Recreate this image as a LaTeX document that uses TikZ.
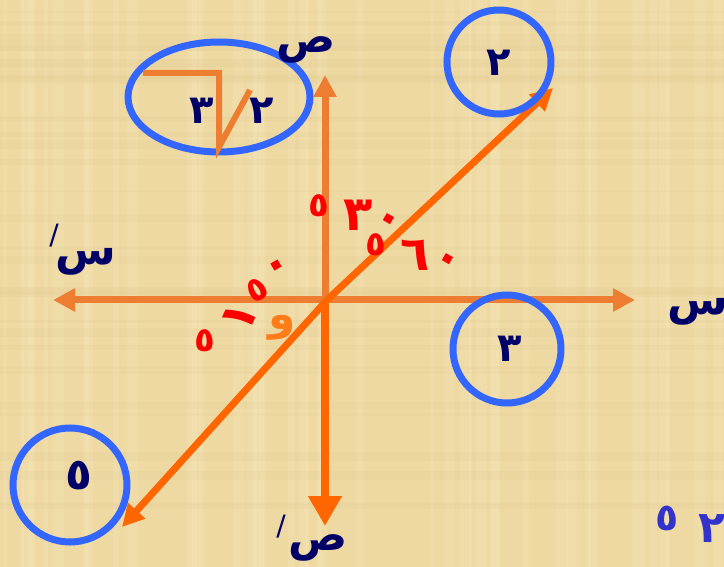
\documentclass[tikz,border=0pt]{standalone}
\usepackage{fontspec}
\usetikzlibrary{arrows.meta,shapes.geometric}
\newfontfamily\arabicfont[Script=Arabic]{DejaVu Sans}
\TeXXeTstate=1
\definecolor{papyrus}{RGB}{238,217,163}
\definecolor{papyrusL}{RGB}{246,230,185}
\definecolor{papyrusD}{RGB}{222,198,140}
\definecolor{axisorange}{RGB}{237,125,49}
\definecolor{hotorange}{RGB}{255,102,0}
\definecolor{wawcol}{RGB}{255,125,25}
\definecolor{ringblue}{RGB}{51,102,255}
\definecolor{navy}{RGB}{0,0,102}
\definecolor{labelblue}{RGB}{51,51,204}
\definecolor{degred}{RGB}{255,0,0}
\begin{document}
\begin{tikzpicture}[x=1pt,y=-1pt,
  ring/.style={draw=ringblue,line width=7pt},
  axisline/.style={draw=axisorange,line width=7pt},
  hotline/.style={draw=hotorange,line width=7pt},
  tipsmall/.style={-{Triangle[width=22pt,length=22pt]}},
  tipbig/.style={-{Triangle[width=32pt,length=30pt]}},
  navytxt/.style={text=navy,font=\arabicfont\bfseries\fontsize{40}{44}\selectfont,inner sep=0pt},
  lettertxt/.style={text=navy,font=\arabicfont\bfseries\fontsize{44}{48}\selectfont,inner sep=0pt},
  primetxt/.style={text=navy,font=\arabicfont\fontsize{28}{30}\selectfont,inner sep=0pt},
  redtxt/.style={text=degred,font=\arabicfont\bfseries\fontsize{48}{52}\selectfont,inner sep=0pt},
  redsmall/.style={text=degred,font=\arabicfont\bfseries\fontsize{34}{38}\selectfont,inner sep=0pt},
  bluetxt/.style={text=labelblue,font=\arabicfont\bfseries\fontsize{44}{48}\selectfont,inner sep=0pt}
]
\fill[papyrus] (0,0) rectangle (724,567);
% papyrus fibres
\pgfmathsetseed{7}
\foreach \i in {1,...,45}{
  \pgfmathsetmacro{\xx}{rnd*724}
  \pgfmathsetmacro{\ww}{2+rnd*10}
  \fill[papyrusL,opacity=0.3] (\xx,0) rectangle ({\xx+\ww},567);
}
\foreach \i in {1,...,35}{
  \pgfmathsetmacro{\yy}{rnd*567}
  \pgfmathsetmacro{\hh}{2+rnd*8}
  \fill[papyrusD,opacity=0.12] (0,\yy) rectangle (724,{\yy+\hh});
}
\useasboundingbox (0,0) rectangle (724,567);

% coordinates
\coordinate (O) at (327,300);
\coordinate (xr) at (635,300);
\coordinate (xl) at (53,300);
\coordinate (yt) at (325,75);
\coordinate (yb) at (325,526);
\coordinate (dtr) at (553,88);
\coordinate (dbl) at (122,527);
\coordinate (Oy) at (325,300);

% axes
\draw[axisline,tipsmall] (O) -- (xr);
\draw[axisline,tipsmall] (O) -- (xl);
\draw[axisline,tipsmall] (Oy) -- (yt);
\draw[hotline,line width=8pt,tipbig] (Oy) -- (yb);
\draw[hotline,tipsmall] (O) -- (dtr);
\draw[hotline,tipsmall] (O) -- (dbl);

% rings
\node[ring,ellipse,minimum width=182pt,minimum height=110pt,inner sep=0pt] (ell) at (219,97) {};
\draw[ring] (499,62) circle (52);
\draw[ring] (507,349) circle (54);
\draw[ring] (70,485) circle (57);

% radical
\coordinate (r1) at (143,73);
\coordinate (r2) at (219,73);
\coordinate (r3) at (219,147);
\coordinate (r4) at (250,90);
\draw[axisorange,line width=6pt] (r1) -- (r2) -- (r3) -- (r4);

% navy labels
\node[lettertxt] (sad) at (306,50) {\beginR ص\endR};
\node[lettertxt] (sadp) at (318,548) {\beginR ص\endR};
\node[primetxt] (sadpm) at (281,527) {/};
\node[lettertxt] (sin) at (698,312) {\beginR س\endR};
\node[lettertxt] (sinp) at (86,262) {\beginR س\endR};
\node[primetxt] (sinpm) at (54,236) {/};
\node[navytxt] (e3) at (202,111) {٣};
\node[navytxt] (e2) at (262,111) {٢};
\node[navytxt] (c2) at (499,63) {٢};
\node[navytxt] (c3) at (510,349) {٣};
\node[navytxt,font=\arabicfont\bfseries\fontsize{44}{48}\selectfont] (c5) at (79,476) {٥};

% red degree labels
\node[redsmall] (a1) at (319,206) {٥};
\node[redtxt] (a2) at (358,215) {٣};
\node[redtxt,rotate=-30] (a3) at (387,223) {٠};
\node[redsmall] (b1) at (376,245) {٥};
\node[redtxt] (b2) at (415,255) {٦};
\node[redtxt,rotate=-30] (b3) at (446,263) {٠};
\node[redsmall] (c1d) at (205,341) {٥};
\node[redtxt,rotate=66] (c2d) at (240,317) {١};
\node[redsmall,rotate=30] (c3d) at (257,290) {٥};
\node[redtxt,rotate=30] (c4d) at (279,270) {٠};
\node[redtxt,text=wawcol,font=\arabicfont\bfseries\fontsize{44}{48}\selectfont] (waw) at (282,328) {\beginR و\endR};

% bottom right
\node[bluetxt,font=\arabicfont\bfseries\fontsize{38}{42}\selectfont] (br5) at (667,518) {٥};
\node[bluetxt] (br2) at (712,529) {٢};
\end{tikzpicture}
\end{document}
